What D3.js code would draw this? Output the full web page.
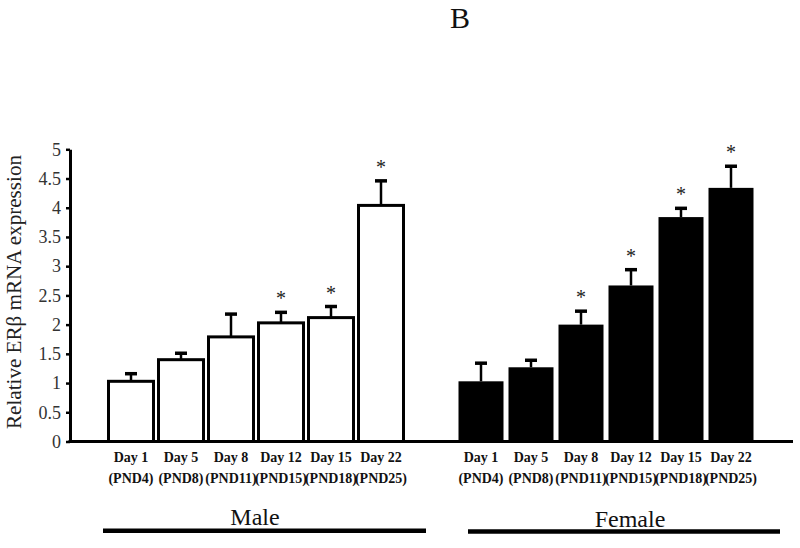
<!DOCTYPE html>
<html>
<head>
<meta charset="utf-8">
<script src="https://cdn.jsdelivr.net/npm/d3@7/dist/d3.min.js"></script>
<style>
  html, body { margin: 0; padding: 0; background: #fff; }
  svg { display: block; }
  svg text { font-family: "Liberation Serif", "Times New Roman", Times, serif !important; }
</style>
</head>
<body>
<svg id="chart" width="800" height="548" font-family="Liberation Serif"></svg>
<script>
// ---- data ----
const categories = ["Day 1", "Day 5", "Day 8", "Day 12", "Day 15", "Day 22"];
const pndLabels = ["(PND4)", "(PND8)", "(PND11)", "(PND15)", "(PND18)", "(PND25)"];
const groups = ["Male", "Female"];
const maleMean = [1.03, 1.40, 1.79, 2.03, 2.12, 4.04];
const maleErr = [0.13, 0.11, 0.39, 0.18, 0.19, 0.42];
const maleSig = [false, false, false, true, true, true];
const femaleMean = [1.03, 1.27, 2.00, 2.67, 3.84, 4.34];
const femaleErr = [0.31, 0.12, 0.23, 0.27, 0.15, 0.37];
const femaleSig = [false, false, true, true, true, true];
const yTicks = [0, 0.5, 1, 1.5, 2, 2.5, 3, 3.5, 4, 4.5, 5];
const yLabel = "Relative ERβ mRNA expression";
const panelTitle = "B";

const FONT = "'Liberation Serif', 'Times New Roman', Times, serif";

// ---- build rows ----
const slots = [];
categories.forEach((c, i) => slots.push("M" + i));
slots.push("gap");
categories.forEach((c, i) => slots.push("F" + i));

const rows = [];
categories.forEach((c, i) => rows.push({ key: "M" + i, group: "Male", cat: c, pnd: pndLabels[i], mean: maleMean[i], err: maleErr[i], sig: maleSig[i] }));
categories.forEach((c, i) => rows.push({ key: "F" + i, group: "Female", cat: c, pnd: pndLabels[i], mean: femaleMean[i], err: femaleErr[i], sig: femaleSig[i] }));

const svg = d3.select("#chart");
const axisX0 = 70, axisX1 = 793;
const y = d3.scaleLinear().domain([0, 5]).range([441.5, 149.3]);
const x = d3.scaleBand().domain(slots).range([106, 756]).paddingInner(0.1).paddingOuter(0.05);
const cx = k => x(k) + x.bandwidth() / 2;

// title
svg.append("text").attr("x", 460).attr("y", 28).attr("text-anchor", "middle")
  .style("font-family", FONT)
  .attr("font-size", 30).attr("fill", "#111").text(panelTitle);

// y label
svg.append("text")
  .attr("transform", "translate(21,292) rotate(-90)")
  .attr("text-anchor", "middle")
  .style("font-family", FONT)
  .attr("font-size", 20)
  .attr("textLength", 274).attr("lengthAdjust", "spacingAndGlyphs")
  .attr("fill", "#222").text(yLabel);

// bars
const bars = svg.append("g");
bars.selectAll("rect").data(rows).join("rect")
  .attr("x", d => x(d.key))
  .attr("width", x.bandwidth())
  .attr("y", d => y(d.mean))
  .attr("height", d => y(0) - y(d.mean))
  .attr("fill", d => d.group === "Male" ? "#fff" : "#000")
  .attr("stroke", d => d.group === "Male" ? "#000" : "none")
  .attr("stroke-width", 3);

// error bars
const eb = svg.append("g").attr("stroke", "#000");
eb.selectAll("line.v").data(rows).join("line").attr("class", "v")
  .attr("x1", d => cx(d.key)).attr("x2", d => cx(d.key))
  .attr("y1", d => y(d.mean)).attr("y2", d => y(d.mean + d.err))
  .attr("stroke-width", 2.5);
eb.selectAll("line.c").data(rows).join("line").attr("class", "c")
  .attr("x1", d => cx(d.key) - 6).attr("x2", d => cx(d.key) + 6)
  .attr("y1", d => y(d.mean + d.err)).attr("y2", d => y(d.mean + d.err))
  .attr("stroke-width", 3.5);

// asterisks
svg.append("g").selectAll("text").data(rows.filter(d => d.sig)).join("text")
  .attr("x", d => cx(d.key))
  .attr("y", d => y(d.mean + d.err) - 7)
  .attr("text-anchor", "middle")
  .style("font-family", FONT)
  .attr("font-size", 20)
  .attr("fill", "#222")
  .text("*");

// y axis
const yAxis = d3.axisLeft(y).tickValues(yTicks).tickFormat(d3.format("~g")).tickSize(4).tickSizeOuter(0).tickPadding(5);
const gy = svg.append("g").attr("transform", `translate(${axisX0},0)`).call(yAxis);
gy.attr("font-family", null);
gy.select(".domain").attr("stroke", "#000").attr("stroke-width", 3);
gy.selectAll(".tick line").attr("stroke", "#000").attr("stroke-width", 2.5);
gy.selectAll(".tick text").style("font-family", FONT)
  .attr("font-size", 18).attr("fill", "#333");

// x axis line
svg.append("line").attr("x1", axisX0 - 1.5).attr("x2", axisX1).attr("y1", y(0)).attr("y2", y(0))
  .attr("stroke", "#000").attr("stroke-width", 3);

// category labels
const lab = svg.append("g").attr("font-weight", "bold").attr("font-size", 14).attr("fill", "#111").attr("text-anchor", "middle");
lab.selectAll("text.cat").data(rows).join("text").attr("class", "cat")
  .style("font-family", FONT)
  .attr("x", d => cx(d.key)).attr("y", 462).text(d => d.cat);
lab.selectAll("text.pnd").data(rows).join("text").attr("class", "pnd")
  .style("font-family", FONT)
  .attr("x", d => cx(d.key)).attr("y", 483).text(d => d.pnd);

// group labels and underlines
const groupSpec = [
  { name: groups[0], tx: 255, ty: 525, x1: 103, x2: 426, ly: 530.7 },
  { name: groups[1], tx: 630, ty: 527, x1: 468, x2: 780, ly: 531.5 }
];
const gg = svg.append("g");
gg.selectAll("text").data(groupSpec).join("text")
  .style("font-family", FONT)
  .attr("x", d => d.tx).attr("y", d => d.ty).attr("text-anchor", "middle")
  .attr("font-size", 24).attr("fill", "#111").text(d => d.name);
gg.selectAll("line").data(groupSpec).join("line")
  .attr("x1", d => d.x1).attr("x2", d => d.x2).attr("y1", d => d.ly).attr("y2", d => d.ly)
  .attr("stroke", "#000").attr("stroke-width", 4.5);
</script>
</body>
</html>
